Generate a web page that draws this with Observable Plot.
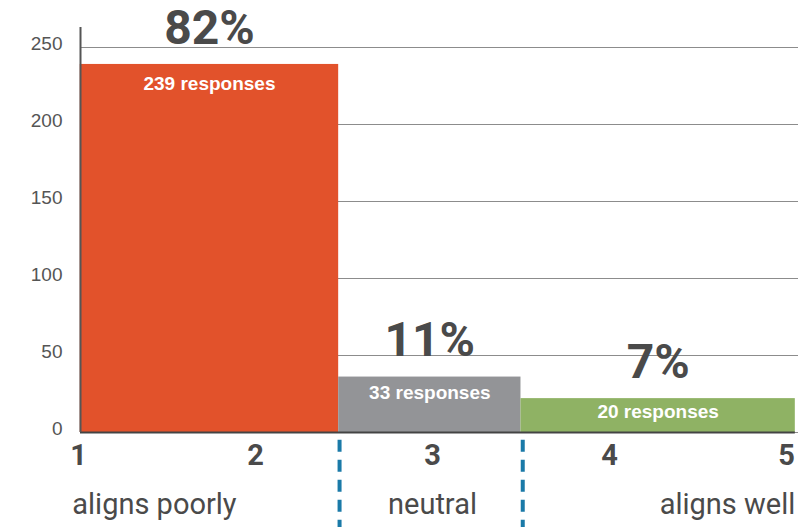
<!DOCTYPE html>
<html><head><meta charset="utf-8">
<script src="https://cdn.jsdelivr.net/npm/d3@7"></script>
<script src="https://cdn.jsdelivr.net/npm/@observablehq/plot@0.6"></script>
<style>html,body{margin:0;padding:0;background:#fff} #chart svg{display:block;overflow:visible}</style>
</head><body><div id="chart"></div>
<script>
const categories = ["aligns poorly", "neutral", "aligns well"];
const responses = [239, 33, 20];
const percents = ["82%", "11%", "7%"];
const barValues = [239, 36, 22];
const barStart = [1.01, 2.47, 3.5];
const barEnd = [2.47, 3.5, 5.05];
const barColors = ["#e2522b", "#939497", "#8fb264"];
const scaleTicks = [1, 2, 3, 4, 5];
const yTicks = [0, 50, 100, 150, 200, 250];
const dividers = [2.475, 3.51];

const bars = categories.map((c, i) => ({
  category: c, x1: barStart[i], x2: barEnd[i], value: barValues[i],
  label: responses[i] + " responses", pct: percents[i], color: barColors[i]
}));

const narrow = "Roboto, 'DejaVu Sans Condensed', sans-serif";
const sans = "'Liberation Sans', Arial, Helvetica, sans-serif";
const dark = "#4a4a4a";
const xDomain = [1.0113, 5.068];
const innerDy = [19.5, 15.5, 13.5];

const chart = Plot.plot({
  width: 798, height: 527,
  marginLeft: 80, marginRight: 0, marginTop: 47, marginBottom: 95,
  x: {domain: xDomain, axis: null},
  y: {domain: [0, 250]},
  color: {type: "identity"},
  marks: [
    Plot.gridY(yTicks, {stroke: "#8c8c8c", strokeOpacity: 1, strokeWidth: 1.2}),
    Plot.rectY(bars, {x1: "x1", x2: "x2", y1: 0, y2: "value", fill: "color"}),
    Plot.ruleY([0], {x1: xDomain[0], x2: barEnd[2], stroke: "#444", strokeWidth: 2}),
    Plot.ruleX([xDomain[0]], {y1: 0, y2: 263, stroke: "#555", strokeWidth: 2}),
    Plot.axisY(yTicks, {tickSize: 0, tickPadding: 18, fontSize: 19, fill: "#555", dy: -4, fontFamily: sans, label: null}),
    Plot.text(bars, {x: d => (d.x1 + d.x2) / 2, y: "value", text: "pct", dy: -36, fontSize: 48, fontWeight: "bold", fill: dark, fontFamily: narrow}),
    ...bars.map((b, i) => Plot.text([b], {x: d => (d.x1 + d.x2) / 2, y: "value", text: "label", dy: innerDy[i], fontSize: 19, fontWeight: "bold", fill: "#fff", fontFamily: sans})),
    Plot.text(scaleTicks, {x: d => d, y: 0, dy: 23.5, text: d => String(d), fontSize: 29, fontWeight: "bold", fill: dark, fontFamily: narrow}),
    Plot.text([bars[0]], {x: "x1", y: 0, dy: 72, dx: -8, text: "category", textAnchor: "start", fontSize: 29, fill: dark, fontFamily: narrow}),
    Plot.text([bars[1]], {x: d => 3, y: 0, dy: 72, text: "category", textAnchor: "middle", fontSize: 29, fill: dark, fontFamily: narrow}),
    Plot.text([bars[2]], {x: "x2", y: 0, dy: 72, text: "category", textAnchor: "end", fontSize: 29, fill: dark, fontFamily: narrow}),
    Plot.ruleX(dividers, {y1: -5, y2: -62, stroke: "#1a7aa8", strokeWidth: 4, strokeDasharray: "12,8"})
  ]
});
document.getElementById("chart").appendChild(chart);
</script>
</body></html>
